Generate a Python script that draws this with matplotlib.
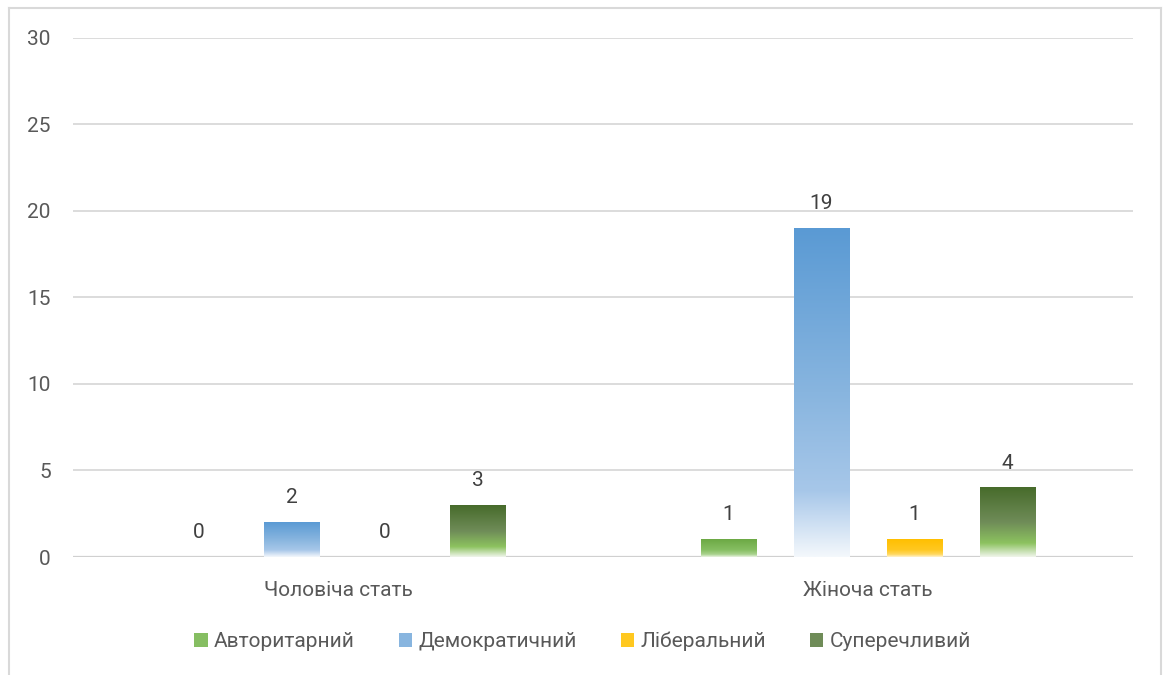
import numpy as np
import matplotlib.pyplot as plt
from matplotlib.colors import LinearSegmentedColormap
from matplotlib.patches import Rectangle
from matplotlib.lines import Line2D

plt.rcParams['font.family'] = ['Roboto', 'DejaVu Sans']

categories = ['Чоловіча стать', 'Жіноча стать']
series = ['Авторитарний', 'Демократичний', 'Ліберальний', 'Суперечливий']
values = {
    'Авторитарний': [0, 1],
    'Демократичний': [2, 19],
    'Ліберальний': [0, 1],
    'Суперечливий': [3, 4],
}
yticks = [0, 5, 10, 15, 20, 25, 30]

# gradient stops, top -> bottom
gradients = {
    'Авторитарний': [(0.0, '#6CA944'), (0.6, '#86BE62'), (0.85, '#A9D28E'), (1.0, '#EAF3E2')],
    'Демократичний': [(0.0, '#5A9AD4'), (0.5, '#88B5DF'), (0.8, '#A7C7E9'), (1.0, '#F4F8FC')],
    'Ліберальний': [(0.0, '#FFBF00'), (0.6, '#FFC820'), (0.85, '#FFD860'), (1.0, '#FFF3CF')],
    'Суперечливий': [(0.0, '#476B2B'), (0.5, '#6F8C58'), (0.8, '#8CC25F'), (1.0, '#F0F5EB')],
}

fig = plt.figure(figsize=(11.65, 6.75), dpi=100)
ax = fig.add_axes([0.0627, 0.1748, 0.9098, 0.769])

x = np.arange(len(categories))
step = 0.1755
width = 0.104
grad = np.linspace(0, 1, 256).reshape(-1, 1)

for i, s in enumerate(series):
    cmap = LinearSegmentedColormap.from_list(s, gradients[s])
    bars = ax.bar(x + (i - 1.5) * step, values[s], width, color='none', edgecolor='none')
    for b, v in zip(bars, values[s]):
        if v > 0:
            x0, w, h = b.get_x(), b.get_width(), b.get_height()
            ax.imshow(grad, cmap=cmap, aspect='auto', extent=[x0, x0 + w, 0, h],
                      origin='upper', zorder=3, interpolation='bilinear')
        ax.annotate(str(v), (b.get_x() + b.get_width() / 2, v), xytext=(0, 11),
                    textcoords='offset points', ha='center', va='bottom',
                    fontsize=15, color='#404040', zorder=4)

ax.set_xlim(-0.5, 1.5)
ax.set_ylim(0, 30)
ax.set_yticks(yticks)
ax.set_xticks(x)
ax.set_xticklabels(categories)
ax.tick_params(axis='both', length=0, labelsize=15, labelcolor='#595959')
ax.tick_params(axis='y', pad=16)
ax.tick_params(axis='x', pad=17)
ax.grid(axis='y', color='#D9D9D9', linewidth=1.3, zorder=0)
ax.set_axisbelow(True)
for sp in ax.spines.values():
    sp.set_visible(False)
ax.axhline(0, color='#D0D0D0', linewidth=1.6, zorder=2)

handles = [Rectangle((0, 0), 1, 1, facecolor=gradients[s][1][1], edgecolor='none') for s in series]
fig.legend(handles, series, loc='center', bbox_to_anchor=(0.5, 0.05), ncol=4, frameon=False,
           fontsize=15, handlelength=0.65, handleheight=0.65, handletextpad=0.3,
           columnspacing=2.1, labelcolor='#595959')

# outer frame
fig.add_artist(Line2D([0.008, 0.008], [0, 0.988], color='#D9D9D9', linewidth=1.5,
                      transform=fig.transFigure))
fig.add_artist(Line2D([0.008, 0.9965], [0.988, 0.988], color='#D9D9D9', linewidth=1.5,
                      transform=fig.transFigure))
fig.add_artist(Line2D([0.9965, 0.9965], [0, 0.988], color='#D9D9D9', linewidth=1.5,
                      transform=fig.transFigure))

fig.savefig('out.png', dpi=100)
